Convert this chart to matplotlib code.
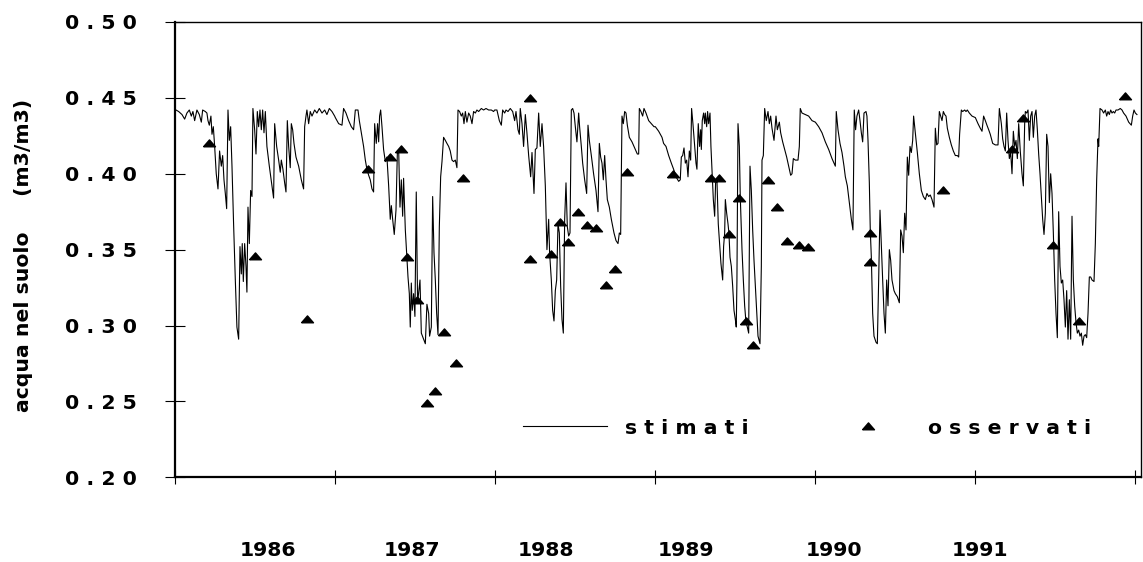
import matplotlib
matplotlib.use("Agg")
import matplotlib.pyplot as plt

# ── DATI ──────────────────────────────────────────────────────────────────────
# mesi dall'inizio del 1986, contenuto idrico del suolo (m3/m3)
sim_mesi = [
    0.04, 0.24, 0.49, 0.69, 0.86, 1.04, 1.19, 1.31, 1.44, 1.61,
    1.79, 1.94, 2.04, 2.24, 2.36, 2.44, 2.54, 2.66, 2.74, 2.84,
    2.94, 3.06, 3.19, 3.31, 3.44, 3.54, 3.64, 3.74, 3.84, 3.94,
    4.04, 4.14, 4.24, 4.36, 4.49, 4.61, 4.74, 4.84, 4.94, 5.01,
    5.09, 5.19, 5.29, 5.36, 5.44, 5.54, 5.64, 5.74, 5.81, 5.94,
    6.04, 6.14, 6.24, 6.34, 6.44, 6.54, 6.64, 6.74, 6.86, 7.04,
    7.24, 7.36, 7.44, 7.59, 7.74, 7.86, 7.94, 8.06, 8.19, 8.29,
    8.39, 8.49, 8.61, 8.69, 8.79, 8.89, 9.04, 9.24, 9.44, 9.61,
    9.69, 9.79, 9.86, 9.99, 10.11, 10.24, 10.44, 10.61, 10.79, 10.99,
    11.19, 11.36, 11.54, 11.74, 11.94,
    11.99, 12.24, 12.49, 12.61, 12.79, 12.99, 13.19, 13.36, 13.49, 13.69,
    13.79, 13.94, 14.11, 14.24, 14.36, 14.49, 14.61, 14.74, 14.86, 14.94,
    15.06, 15.16, 15.24, 15.31, 15.39, 15.49, 15.61, 15.74, 15.86, 15.99,
    16.11, 16.19, 16.29, 16.41, 16.54, 16.64, 16.74, 16.84, 16.94, 17.04,
    17.11, 17.24, 17.34, 17.44, 17.54, 17.61, 17.69, 17.76, 17.86, 17.96,
    18.06, 18.16, 18.26, 18.34, 18.44, 18.61, 18.74, 18.86, 18.99, 19.06,
    19.19, 19.29, 19.39, 19.49, 19.59, 19.69, 19.79, 19.89, 19.99, 20.11,
    20.24, 20.36, 20.49, 20.61, 20.74, 20.86, 20.99, 21.11, 21.19, 21.31,
    21.44, 21.54, 21.64, 21.74, 21.86, 21.99, 22.11, 22.24, 22.36, 22.49,
    22.61, 22.74, 22.94, 23.11, 23.29, 23.49, 23.69, 23.86,
    23.94, 24.11, 24.29, 24.44, 24.54, 24.69, 24.79, 24.94, 25.11, 25.29,
    25.44, 25.54, 25.69, 25.79, 25.86, 25.99, 26.11, 26.24, 26.36, 26.49,
    26.64, 26.74, 26.89, 26.99, 27.11, 27.24, 27.36, 27.49, 27.61, 27.74,
    27.86, 27.99, 28.06, 28.19, 28.29, 28.39, 28.49, 28.59, 28.69, 28.79,
    28.89, 28.99, 29.09, 29.19, 29.29, 29.39, 29.49, 29.59, 29.69, 29.79,
    29.89, 29.99, 30.11, 30.24, 30.31, 30.44, 30.54, 30.69, 30.84, 30.94,
    31.04, 31.19, 31.36, 31.54, 31.69, 31.79, 31.89, 31.99, 32.09, 32.19,
    32.29, 32.39, 32.54, 32.69, 32.89, 33.04, 33.19, 33.29, 33.39, 33.49,
    33.59, 33.69, 33.79, 33.89, 34.04, 34.24, 34.44, 34.64, 34.74, 34.79,
    34.91, 35.04, 35.14, 35.29, 35.49, 35.69, 35.89,
    35.99, 36.24, 36.49, 36.61, 36.79, 36.99, 37.19, 37.36, 37.54, 37.74,
    37.86, 37.94, 38.04, 38.14, 38.24, 38.34, 38.44, 38.54, 38.64, 38.71,
    38.81, 38.94, 39.04, 39.11, 39.21, 39.31, 39.39, 39.44, 39.51, 39.61,
    39.69, 39.74, 39.84, 39.91, 39.99, 40.09, 40.16, 40.26, 40.34, 40.44,
    40.51, 40.61, 40.71, 40.81, 40.91, 41.04, 41.11, 41.19, 41.24, 41.34,
    41.44, 41.51, 41.59, 41.69, 41.79, 41.89, 41.99, 42.06, 42.11, 42.19,
    42.29, 42.36, 42.49, 42.59, 42.69, 42.79, 42.89, 42.99, 43.09, 43.19,
    43.29, 43.39, 43.49, 43.59, 43.69, 43.84, 43.94, 43.99, 44.09, 44.19,
    44.31, 44.44, 44.54, 44.64, 44.74, 44.89, 45.04, 45.14, 45.29, 45.39,
    45.54, 45.69, 45.84, 45.99, 46.14, 46.24, 46.34, 46.49, 46.69, 46.79,
    46.86, 46.99, 47.24, 47.49, 47.74,
    47.99, 48.24, 48.49, 48.74, 48.99, 49.24, 49.49, 49.56, 49.69, 49.84,
    49.99, 50.14, 50.24, 50.39, 50.54, 50.69, 50.81, 50.91, 51.01, 51.11,
    51.24, 51.34, 51.44, 51.54, 51.64, 51.79, 51.86, 51.94, 52.04, 52.11,
    52.19, 52.29, 52.39, 52.54, 52.64, 52.74, 52.84, 52.94, 53.04, 53.14,
    53.24, 53.34, 53.44, 53.54, 53.64, 53.74, 53.89, 53.99, 54.14, 54.29,
    54.39, 54.49, 54.59, 54.69, 54.79, 54.89, 54.99, 55.09, 55.19, 55.29,
    55.36, 55.49, 55.64, 55.79, 55.94, 56.09, 56.24, 56.36, 56.49, 56.61,
    56.74, 56.89, 56.99, 57.09, 57.19, 57.29, 57.39, 57.49, 57.59, 57.69,
    57.79, 57.89, 58.04, 58.19, 58.34, 58.49, 58.64, 58.74, 58.81, 58.94,
    59.04, 59.19, 59.29, 59.39, 59.54, 59.74,
    59.99, 60.19, 60.36, 60.49, 60.61, 60.74, 60.86, 60.99, 61.11, 61.29,
    61.49, 61.69, 61.79, 61.94, 62.04, 62.14, 62.24, 62.34, 62.44, 62.54,
    62.64, 62.74, 62.84, 62.94, 63.04, 63.14, 63.24, 63.36, 63.49, 63.59,
    63.69, 63.74, 63.84, 63.94, 64.04, 64.14, 64.24, 64.34, 64.44, 64.54,
    64.64, 64.74, 64.84, 64.94, 65.04, 65.14, 65.24, 65.34, 65.44, 65.54,
    65.64, 65.74, 65.84, 65.94, 66.04, 66.14, 66.24, 66.34, 66.44, 66.54,
    66.64, 66.74, 66.84, 66.94, 67.04, 67.14, 67.24, 67.34, 67.44, 67.54,
    67.64, 67.74, 67.84, 67.94, 68.04, 68.14, 68.24, 68.34, 68.44, 68.54,
    68.64, 68.74, 68.89, 68.99, 69.09, 69.19, 69.24, 69.34, 69.49, 69.61,
    69.74, 69.84, 69.94, 70.04, 70.14, 70.24, 70.34, 70.44, 70.54, 70.69,
    70.86, 70.99, 71.11, 71.29, 71.49, 71.69, 71.79, 71.89, 71.99, 72.11,
]

sim_acqua = [
    0.442, 0.441, 0.439, 0.436, 0.440, 0.442, 0.438, 0.441, 0.435, 0.442,
    0.439, 0.434, 0.442, 0.441, 0.440, 0.435, 0.432, 0.438, 0.426, 0.431,
    0.418, 0.400, 0.390, 0.415, 0.405, 0.412, 0.396, 0.387, 0.377, 0.442,
    0.422, 0.431, 0.405, 0.367, 0.330, 0.299, 0.291, 0.352, 0.334, 0.354,
    0.329, 0.354, 0.339, 0.322, 0.378, 0.354, 0.389, 0.385, 0.443, 0.429,
    0.413, 0.441, 0.431, 0.442, 0.429, 0.442, 0.427, 0.441, 0.418, 0.405,
    0.392, 0.384, 0.433, 0.418, 0.409, 0.401, 0.409, 0.403, 0.394, 0.388,
    0.435, 0.418, 0.404, 0.433, 0.429, 0.420, 0.411, 0.405, 0.396, 0.390,
    0.431, 0.438, 0.442, 0.433, 0.441, 0.438, 0.442, 0.440, 0.443, 0.440,
    0.442, 0.439, 0.443, 0.441, 0.438,
    0.437, 0.433, 0.432, 0.443, 0.440, 0.435, 0.431, 0.429, 0.442, 0.442,
    0.435, 0.427, 0.418, 0.409, 0.403, 0.399, 0.396, 0.390, 0.388, 0.433,
    0.420, 0.433, 0.421, 0.438, 0.442, 0.431, 0.416, 0.408, 0.411, 0.392,
    0.370, 0.379, 0.370, 0.360, 0.376, 0.413, 0.416, 0.378, 0.396, 0.372,
    0.397, 0.363, 0.348, 0.332, 0.321, 0.299, 0.328, 0.310, 0.321, 0.306,
    0.388, 0.315, 0.323, 0.330, 0.295, 0.291, 0.288, 0.314, 0.308, 0.293,
    0.299, 0.385, 0.348, 0.330, 0.308, 0.294, 0.365, 0.398, 0.408, 0.424,
    0.422, 0.420, 0.418, 0.415, 0.409, 0.408, 0.409, 0.404, 0.442, 0.441,
    0.438, 0.440, 0.433, 0.441, 0.434, 0.440, 0.438, 0.433, 0.441, 0.440,
    0.442, 0.441, 0.443, 0.442, 0.443, 0.442, 0.442, 0.441,
    0.442, 0.442, 0.435, 0.432, 0.442, 0.440, 0.442, 0.441, 0.443, 0.441,
    0.435, 0.441, 0.429, 0.426, 0.443, 0.433, 0.418, 0.439, 0.427, 0.412,
    0.398, 0.414, 0.387, 0.416, 0.417, 0.440, 0.418, 0.433, 0.418, 0.392,
    0.350, 0.370, 0.348, 0.330, 0.310, 0.303, 0.323, 0.330, 0.367, 0.361,
    0.326, 0.304, 0.295, 0.370, 0.394, 0.365, 0.359, 0.361, 0.442, 0.443,
    0.440, 0.431, 0.421, 0.440, 0.431, 0.418, 0.407, 0.396, 0.387, 0.432,
    0.422, 0.412, 0.400, 0.389, 0.375, 0.420, 0.411, 0.407, 0.396, 0.412,
    0.396, 0.383, 0.378, 0.370, 0.361, 0.356, 0.354, 0.361, 0.360, 0.438,
    0.433, 0.441, 0.440, 0.432, 0.424, 0.421, 0.417, 0.413, 0.413, 0.443,
    0.441, 0.438, 0.443, 0.440, 0.435, 0.433, 0.431,
    0.431, 0.428, 0.424, 0.420, 0.418, 0.412, 0.407, 0.403, 0.398, 0.395,
    0.396, 0.411, 0.412, 0.417, 0.407, 0.409, 0.398, 0.415, 0.409, 0.443,
    0.433, 0.418, 0.407, 0.403, 0.433, 0.418, 0.429, 0.416, 0.435, 0.440,
    0.433, 0.440, 0.431, 0.441, 0.433, 0.440, 0.418, 0.398, 0.383, 0.372,
    0.394, 0.396, 0.367, 0.354, 0.341, 0.330, 0.352, 0.361, 0.383, 0.374,
    0.367, 0.361, 0.345, 0.339, 0.326, 0.310, 0.304, 0.299, 0.330, 0.433,
    0.418, 0.385, 0.350, 0.330, 0.313, 0.302, 0.299, 0.295, 0.405, 0.389,
    0.363, 0.343, 0.326, 0.308, 0.293, 0.288, 0.339, 0.409, 0.412, 0.443,
    0.435, 0.441, 0.433, 0.438, 0.430, 0.422, 0.438, 0.429, 0.434, 0.427,
    0.421, 0.416, 0.411, 0.405, 0.399, 0.400, 0.410, 0.409, 0.409, 0.418,
    0.443, 0.440, 0.439, 0.438, 0.435,
    0.434, 0.431, 0.427, 0.421, 0.416, 0.410, 0.405, 0.441, 0.429, 0.420,
    0.414, 0.405, 0.398, 0.392, 0.381, 0.370, 0.363, 0.442, 0.429, 0.438,
    0.442, 0.435, 0.427, 0.421, 0.440, 0.441, 0.438, 0.422, 0.394, 0.363,
    0.345, 0.308, 0.293, 0.289, 0.288, 0.330, 0.376, 0.352, 0.330, 0.308,
    0.295, 0.330, 0.313, 0.350, 0.343, 0.330, 0.323, 0.321, 0.319, 0.315,
    0.363, 0.359, 0.348, 0.374, 0.363, 0.411, 0.399, 0.418, 0.414, 0.422,
    0.438, 0.427, 0.414, 0.400, 0.389, 0.385, 0.383, 0.387, 0.385, 0.386,
    0.383, 0.378, 0.430, 0.419, 0.420, 0.441, 0.438, 0.435, 0.441, 0.439,
    0.438, 0.430, 0.424, 0.419, 0.415, 0.412, 0.412, 0.411, 0.426, 0.442,
    0.441, 0.442, 0.441, 0.442, 0.440, 0.438,
    0.437, 0.433, 0.430, 0.428, 0.438, 0.435, 0.432, 0.429, 0.426, 0.420,
    0.419, 0.419, 0.443, 0.433, 0.423, 0.418, 0.415, 0.440, 0.422, 0.410,
    0.414, 0.400, 0.428, 0.418, 0.422, 0.410, 0.433, 0.415, 0.400, 0.392,
    0.433, 0.441, 0.440, 0.442, 0.422, 0.438, 0.441, 0.424, 0.438, 0.442,
    0.429, 0.413, 0.400, 0.385, 0.370, 0.360, 0.374, 0.426, 0.418, 0.381,
    0.400, 0.387, 0.361, 0.330, 0.308, 0.292, 0.375, 0.339, 0.328, 0.330,
    0.317, 0.299, 0.323, 0.291, 0.317, 0.291, 0.372, 0.330, 0.313, 0.302,
    0.295, 0.297, 0.293, 0.295, 0.287, 0.293, 0.294, 0.292, 0.308, 0.332,
    0.332, 0.330, 0.329, 0.354, 0.396, 0.423, 0.418, 0.443, 0.442, 0.440,
    0.442, 0.438, 0.441, 0.439, 0.442, 0.440, 0.441, 0.440, 0.442, 0.442,
    0.443, 0.442, 0.440, 0.438, 0.434, 0.432, 0.438, 0.442, 0.440, 0.439,
]

oss_mesi = [
    2.49, 5.99, 9.86, 14.41, 16.11, 16.89, 17.39, 18.14, 18.84, 19.49,
    20.16, 21.04, 21.54, 26.61, 26.61, 28.16, 28.81, 29.46, 30.21, 30.86,
    31.54, 32.31, 32.94, 33.86, 37.31, 40.14, 40.76, 41.54, 42.26, 42.79,
    43.31, 44.46, 45.11, 45.89, 46.76, 47.44, 52.11, 52.11, 57.56, 62.74,
    63.54, 65.84, 67.79, 71.19,
]
oss_acqua = [
    0.420, 0.346, 0.304, 0.403, 0.411, 0.416, 0.345, 0.317, 0.249, 0.257,
    0.296, 0.275, 0.397, 0.450, 0.344, 0.347, 0.368, 0.355, 0.375, 0.366,
    0.364, 0.327, 0.337, 0.401, 0.400, 0.397, 0.397, 0.360, 0.384, 0.303,
    0.287, 0.396, 0.378, 0.356, 0.353, 0.352, 0.361, 0.342, 0.389, 0.416,
    0.437, 0.353, 0.303, 0.451,
]

anni = ["1986", "1987", "1988", "1989", "1990", "1991"]
anni_pos = [6.90, 17.74, 27.77, 38.27, 49.40, 60.34]
y_ticks = [0.20, 0.25, 0.30, 0.35, 0.40, 0.45, 0.50]
y_labels = ["0 . 2 0", "0 . 2 5", "0 . 3 0", "0 . 3 5", "0 . 4 0", "0 . 4 5", "0 . 5 0"]

FONT = {"family": "DejaVu Sans", "weight": "bold", "size": 14.7}

# triangolo schiacciato come nel grafico originale
TRI = [(-1, -0.55), (1, -0.55), (0, 0.6), (-1, -0.55)]

# ── GRAFICO ───────────────────────────────────────────────────────────────────
fig = plt.figure(figsize=(11.43, 5.62), dpi=100)
ax = fig.add_axes([0.1535, 0.1507, 0.8447, 0.8102])

ax.plot(sim_mesi, sim_acqua, color="black", lw=0.8, label="s t i m a t i")
ax.plot(oss_mesi, oss_acqua, ls="none", marker=TRI, ms=8.6,
        color="black", label="o s s e r v a t i")

ax.set_xlim(0, 72.41)
ax.set_ylim(0.2, 0.5)

ax.set_xticks(range(0, 73, 12))
ax.set_xticklabels([])
ax.set_xticks(anni_pos, minor=True)
ax.set_xticklabels(anni, minor=True, fontdict=FONT)
ax.tick_params(axis="x", which="major", direction="inout", length=9.6, width=0.8)
ax.tick_params(axis="x", which="minor", length=0, pad=46)

ax.set_yticks(y_ticks)
ax.set_yticklabels(y_labels, fontdict=FONT)
ax.tick_params(axis="y", direction="inout", length=15, width=0.8, pad=20.2)

for side in ["left", "bottom"]:
    ax.spines[side].set_linewidth(1.6)
for side in ["top", "right"]:
    ax.spines[side].set_linewidth(1.0)

ax.set_ylabel("acqua nel suolo     (m3/m3)", fontdict=FONT)
ax.yaxis.label.set_va("center")
ax.yaxis.set_label_coords(-0.157, 0.488)

ax.legend(loc="center left", bbox_to_anchor=(0.36, 0.108), ncol=2,
          frameon=False, handlelength=4.1, handletextpad=0.9,
          columnspacing=3.8, borderpad=0, borderaxespad=0, numpoints=1,
          prop=FONT)

fig.savefig("out.png", dpi=100)
